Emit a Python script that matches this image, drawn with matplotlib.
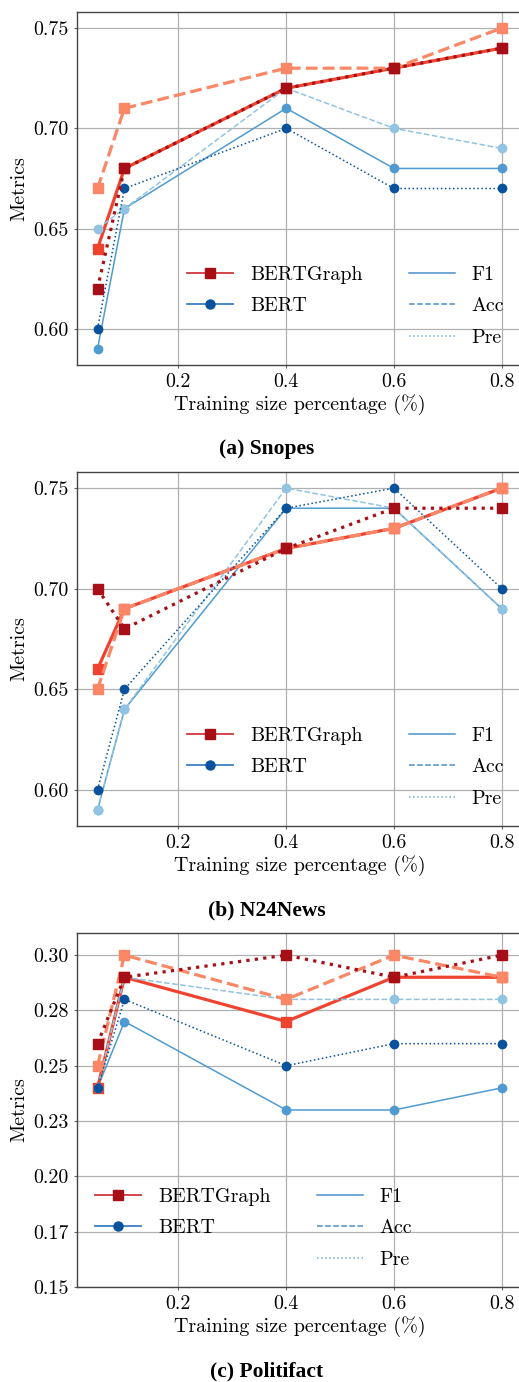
import matplotlib
matplotlib.use("Agg")
import matplotlib.pyplot as plt
from matplotlib.lines import Line2D
from matplotlib.ticker import FormatStrFormatter, FixedLocator

plt.rcParams['font.family'] = ['cmr10', 'DejaVu Serif']
plt.rcParams['mathtext.fontset'] = 'cm'
plt.rcParams['axes.formatter.use_mathtext'] = True

# ---------------- data ----------------
train_sizes = [0.05, 0.1, 0.4, 0.6, 0.8]
xticks = [0.2, 0.4, 0.6, 0.8]
xtick_labels = ["0.2", "0.4", "0.6", "0.8"]

datasets = ["Snopes", "N24News", "Politifact"]
captions = ["(a) Snopes", "(b) N24News", "(c) Politifact"]

snopes_bg_f1 = [0.64, 0.68, 0.72, 0.73, 0.74]
snopes_bg_acc = [0.67, 0.71, 0.73, 0.73, 0.75]
snopes_bg_pre = [0.62, 0.68, 0.72, 0.73, 0.74]
snopes_bert_f1 = [0.59, 0.66, 0.71, 0.68, 0.68]
snopes_bert_acc = [0.65, 0.66, 0.72, 0.70, 0.69]
snopes_bert_pre = [0.60, 0.67, 0.70, 0.67, 0.67]

n24_bg_f1 = [0.66, 0.69, 0.72, 0.73, 0.75]
n24_bg_acc = [0.65, 0.69, 0.72, 0.73, 0.75]
n24_bg_pre = [0.70, 0.68, 0.72, 0.74, 0.74]
n24_bert_f1 = [0.59, 0.64, 0.74, 0.74, 0.69]
n24_bert_acc = [0.59, 0.64, 0.75, 0.74, 0.69]
n24_bert_pre = [0.60, 0.65, 0.74, 0.75, 0.70]

poli_bg_f1 = [0.24, 0.29, 0.27, 0.29, 0.29]
poli_bg_acc = [0.25, 0.30, 0.28, 0.30, 0.29]
poli_bg_pre = [0.26, 0.29, 0.30, 0.29, 0.30]
poli_bert_f1 = [0.24, 0.27, 0.23, 0.23, 0.24]
poli_bert_acc = [0.24, 0.29, 0.28, 0.28, 0.28]
poli_bert_pre = [0.24, 0.28, 0.25, 0.26, 0.26]

yticks_ab = [0.60, 0.65, 0.70, 0.75]
yticks_c = [0.15, 0.175, 0.20, 0.225, 0.25, 0.275, 0.30]

all_data = [
    (snopes_bg_f1, snopes_bg_acc, snopes_bg_pre, snopes_bert_f1, snopes_bert_acc, snopes_bert_pre),
    (n24_bg_f1, n24_bg_acc, n24_bg_pre, n24_bert_f1, n24_bert_acc, n24_bert_pre),
    (poli_bg_f1, poli_bg_acc, poli_bg_pre, poli_bert_f1, poli_bert_acc, poli_bert_pre),
]

# ---------------- styles ----------------
W, H = 519, 1382
C_BG_F1, C_BG_ACC, C_BG_PRE = '#ef432f', '#fb8766', '#a50f15'
C_BERT_F1, C_BERT_ACC, C_BERT_PRE = '#4f9bd1', '#91c3e2', '#08519c'
FS = 14.4

fig = plt.figure(figsize=(W / 100, H / 100), dpi=100)

panels_px = [(12, 365), (472, 826), (933, 1287)]
caption_y = [449, 910, 1371]
left_px, right_px = 77.3, 522

for i, (top, bot) in enumerate(panels_px):
    ax = fig.add_axes([left_px / W, 1 - bot / H, (right_px - left_px) / W, (bot - top) / H])
    bg_f1, bg_acc, bg_pre, bert_f1, bert_acc, bert_pre = all_data[i]

    bert_kw = dict(marker='o', markersize=6, linewidth=1.1)
    bg_kw = dict(marker='s', markersize=6.5, linewidth=2.3)
    ax.plot(train_sizes, bert_f1, color=C_BERT_F1, linestyle='-', **bert_kw)
    ax.plot(train_sizes, bg_f1, color=C_BG_F1, linestyle='-', **bg_kw)
    ax.plot(train_sizes, bert_acc, color=C_BERT_ACC, linestyle='--', **bert_kw)
    ax.plot(train_sizes, bg_acc, color=C_BG_ACC, linestyle='--', **bg_kw)
    ax.plot(train_sizes, bert_pre, color=C_BERT_PRE, linestyle=':', **bert_kw)
    ax.plot(train_sizes, bg_pre, color=C_BG_PRE, linestyle=':', **bg_kw)

    ax.set_xticks(xticks)
    ax.set_xticklabels(xtick_labels)
    if i < 2:
        ax.yaxis.set_major_locator(FixedLocator(yticks_ab))
    else:
        ax.set_ylim(0.15, 0.31)
        ax.yaxis.set_major_locator(FixedLocator(yticks_c))
    ax.yaxis.set_major_formatter(FormatStrFormatter('%.2f'))

    ax.grid(True, color='#b0b0b0', linewidth=0.9)
    ax.set_axisbelow(True)
    for sp in ax.spines.values():
        sp.set_color('#444444')
        sp.set_linewidth(1.0)
    ax.tick_params(axis='both', labelsize=FS, length=2.5, width=0.8, color='#666666', pad=3.5)
    ax.set_xlabel('Training size percentage (%)', fontsize=FS, labelpad=2)
    ax.set_ylabel('Metrics', fontsize=FS, labelpad=4)

    handles = [
        Line2D([], [], color='#d0373b', marker='s', markersize=6.5, linewidth=1.3,
               markerfacecolor=C_BG_PRE, markeredgecolor=C_BG_PRE, label='BERTGraph'),
        Line2D([], [], color='#3d7fc0', marker='o', markersize=6.5, linewidth=1.3,
               markerfacecolor=C_BERT_PRE, markeredgecolor=C_BERT_PRE, label='BERT'),
        Line2D([], [], linestyle='none', label=' '),
        Line2D([], [], color='#4a90d0', linestyle='-', linewidth=1.1, label='F1'),
        Line2D([], [], color='#4a90d0', linestyle='--', linewidth=1.1, label='Acc'),
        Line2D([], [], color='#72aede', linestyle=':', linewidth=1.1, label='Pre'),
    ]
    ax.legend(handles=handles, ncol=2, frameon=False,
              loc='lower right' if i < 2 else 'lower left',
              fontsize=FS, handlelength=2.3, columnspacing=2.3, handletextpad=0.85,
              labelspacing=0.68)

    fig.text(267 / W, 1 - caption_y[i] / H, captions[i], ha='center', va='center',
             fontsize=15.5, fontweight='bold', family='Liberation Serif')

fig.savefig('out.png', dpi=100)
